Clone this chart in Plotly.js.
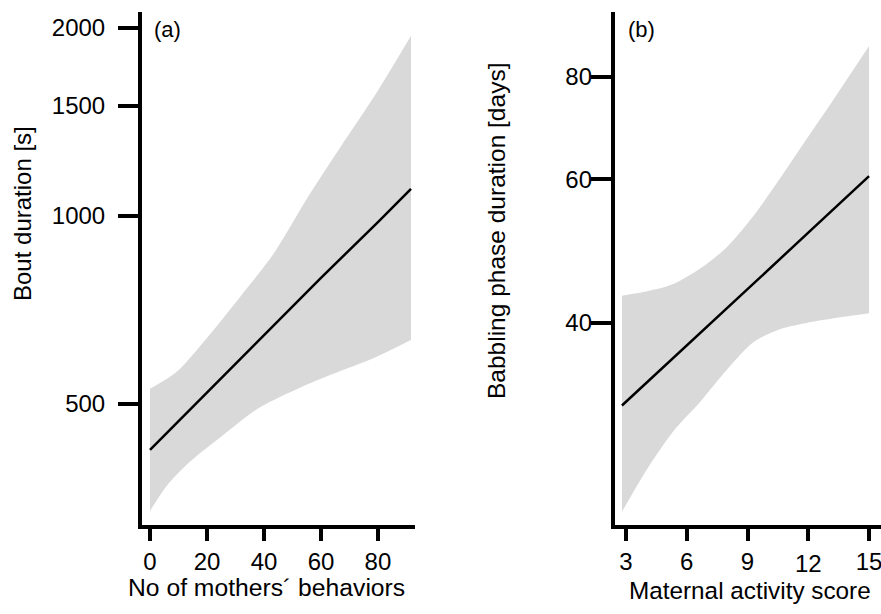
<!DOCTYPE html>
<html>
<head>
<meta charset="utf-8">
<script src="https://cdn.plot.ly/plotly-3.0.1.min.js"></script>
<style>html,body{margin:0;padding:0;background:#fff;}#chart{width:881px;height:614px;}</style>
</head>
<body>
<div id="chart"></div>
<script>
// Panel (a): bout duration vs number of mothers' behaviors
const xA = [0, 20, 40, 60, 80, 91.6];
const fitA = [422, 521, 643, 796, 978, 1105];
const xUpperA = [0, 9.4, 21, 31.6, 43.3, 55, 66.7, 79.5, 91.6];
const upperA = [529, 563, 646, 742, 869, 1065, 1286, 1575, 1943];
const xLowerA = [0, 5.9, 14, 25.7, 38.6, 52.6, 64.3, 78.4, 91.6];
const lowerA = [337, 370, 404, 446, 494, 531, 559, 592, 633];
const yTicksA = [500, 1000, 1500, 2000];
const xTicksA = [0, 20, 40, 60, 80];

// Panel (b): babbling phase duration vs maternal activity score
const xB = [2.8, 6, 9, 12, 15];
const fitB = [31.7, 37.6, 44.0, 51.6, 60.5];
const xBandB = [2.8, 4.0, 5.3, 6.7, 8.0, 9.3, 10.6, 11.9, 13.2, 15];
const upperB = [43.2, 43.7, 44.6, 46.7, 49.6, 54.1, 60.1, 67.1, 74.8, 87.3];
const lowerB = [23.5, 26.4, 29.4, 32.1, 35.1, 37.9, 39.3, 40.0, 40.5, 41.1];
const yTicksB = [40, 60, 80];
const xTicksB = [3, 6, 9, 12, 15];
const xTicksBMain = [3, 6, 9, 15];   // labelled on the main axis
const xTicksBLow = [12];             // label printed slightly lower in the original

const W = 881, H = 614;
const px = v => v / W;
const py = v => 1 - v / H;
const FONT = '"Liberation Sans", Arial, Helvetica, sans-serif';
const band = '#d9d9d9';

const traces = [
  {x: xLowerA, y: lowerA, xaxis: 'x', yaxis: 'y', mode: 'lines',
   line: {width: 0, color: band, shape: 'spline', smoothing: 0.8}, hoverinfo: 'skip'},
  {x: xUpperA, y: upperA, xaxis: 'x', yaxis: 'y', mode: 'lines', fill: 'tonexty', fillcolor: band,
   line: {width: 0, color: band, shape: 'spline', smoothing: 0.8}, hoverinfo: 'skip'},
  {x: xA, y: fitA, xaxis: 'x', yaxis: 'y', mode: 'lines',
   line: {color: '#000', width: 2.5}},
  {x: xBandB, y: lowerB, xaxis: 'x2', yaxis: 'y2', mode: 'lines',
   line: {width: 0, color: band, shape: 'spline', smoothing: 0.8}, hoverinfo: 'skip'},
  {x: xBandB, y: upperB, xaxis: 'x2', yaxis: 'y2', mode: 'lines', fill: 'tonexty', fillcolor: band,
   line: {width: 0, color: band, shape: 'spline', smoothing: 0.8}, hoverinfo: 'skip'},
  {x: xB, y: fitB, xaxis: 'x2', yaxis: 'y2', mode: 'lines',
   line: {color: '#000', width: 2.5}},
  // invisible companions so the label-only axes of panel (b) get drawn
  {x: xB, y: fitB, xaxis: 'x2', yaxis: 'y3', mode: 'lines', opacity: 0,
   line: {color: '#000', width: 1}, hoverinfo: 'skip'},
  {x: xB, y: fitB, xaxis: 'x3', yaxis: 'y2', mode: 'lines', opacity: 0,
   line: {color: '#000', width: 1}, hoverinfo: 'skip'}
];

const common = {
  showgrid: false, zeroline: false, showline: true, linecolor: '#000', linewidth: 4,
  ticks: 'outside', tickcolor: '#000', tickwidth: 4,
  tickfont: {family: FONT, size: 24, color: '#000'}
};

const rangeB = [1.3548, 1.9827];
const rangeXB = [2.457, 15.59];

const layout = {
  width: W, height: H,
  margin: {l: 0, r: 0, t: 0, b: 0},
  paper_bgcolor: '#fff', plot_bgcolor: '#fff',
  showlegend: false,
  font: {family: FONT, color: '#000'},
  xaxis: Object.assign({}, common, {
    domain: [px(142), px(415)], range: [-2.81, 93], anchor: 'y',
    tickvals: xTicksA, ticktext: xTicksA.map(String), ticklen: 12
  }),
  yaxis: Object.assign({}, common, {
    domain: [py(525), py(12)], type: 'log', range: [2.5052, 3.3267], anchor: 'x',
    tickvals: yTicksA, ticktext: yTicksA.map(String), ticklen: 20, ticklabelstandoff: 8
  }),
  xaxis2: Object.assign({}, common, {
    domain: [px(615), 1], range: rangeXB, anchor: 'y2',
    tickvals: xTicksB, ticktext: xTicksB.map(v => xTicksBMain.includes(v) ? String(v) : ''),
    ticklen: 12, ticklabeloverflow: 'allow'
  }),
  xaxis3: {
    overlaying: 'x2', anchor: 'free', position: py(547), side: 'bottom',
    range: rangeXB, showgrid: false, zeroline: false, showline: false, ticks: '',
    tickvals: xTicksBLow, ticktext: xTicksBLow.map(String),
    tickfont: {family: FONT, size: 24, color: '#000'}
  },
  yaxis2: Object.assign({}, common, {
    domain: [py(525), py(12)], type: 'log', range: rangeB, anchor: 'x2',
    tickvals: yTicksB, ticklen: 20, showticklabels: false
  }),
  yaxis3: {
    overlaying: 'y2', anchor: 'free', position: px(592), side: 'left',
    type: 'log', range: rangeB,
    showgrid: false, zeroline: false, showline: false, ticks: '',
    tickvals: yTicksB, ticktext: yTicksB.map(String),
    tickfont: {family: FONT, size: 24, color: '#000'}
  },
  annotations: [
    {text: '(a)', xref: 'paper', yref: 'paper', x: px(152), y: py(29), xanchor: 'left', yanchor: 'middle',
     showarrow: false, font: {family: FONT, size: 22, color: '#000'}},
    {text: '(b)', xref: 'paper', yref: 'paper', x: px(626), y: py(29), xanchor: 'left', yanchor: 'middle',
     showarrow: false, font: {family: FONT, size: 22, color: '#000'}},
    {text: 'Bout duration [s]', xref: 'paper', yref: 'paper', x: px(23), y: py(214), textangle: -90,
     xanchor: 'center', yanchor: 'middle', showarrow: false, font: {family: FONT, size: 24, color: '#000'}},
    {text: 'Babbling phase duration [days]', xref: 'paper', yref: 'paper', x: px(497), y: py(231), textangle: -90,
     xanchor: 'center', yanchor: 'middle', showarrow: false, font: {family: FONT, size: 24.5, color: '#000'}},
    {text: 'No of mothers\u00b4 behaviors', xref: 'paper', yref: 'paper', x: px(266), y: py(587),
     xanchor: 'center', yanchor: 'middle', showarrow: false, font: {family: FONT, size: 24.7, color: '#000'}},
    {text: 'Maternal activity score', xref: 'paper', yref: 'paper', x: px(750), y: py(590),
     xanchor: 'center', yanchor: 'middle', showarrow: false, font: {family: FONT, size: 24.3, color: '#000'}}
  ]
};

Plotly.newPlot('chart', traces, layout, {displayModeBar: false, staticPlot: true});
</script>
</body>
</html>
